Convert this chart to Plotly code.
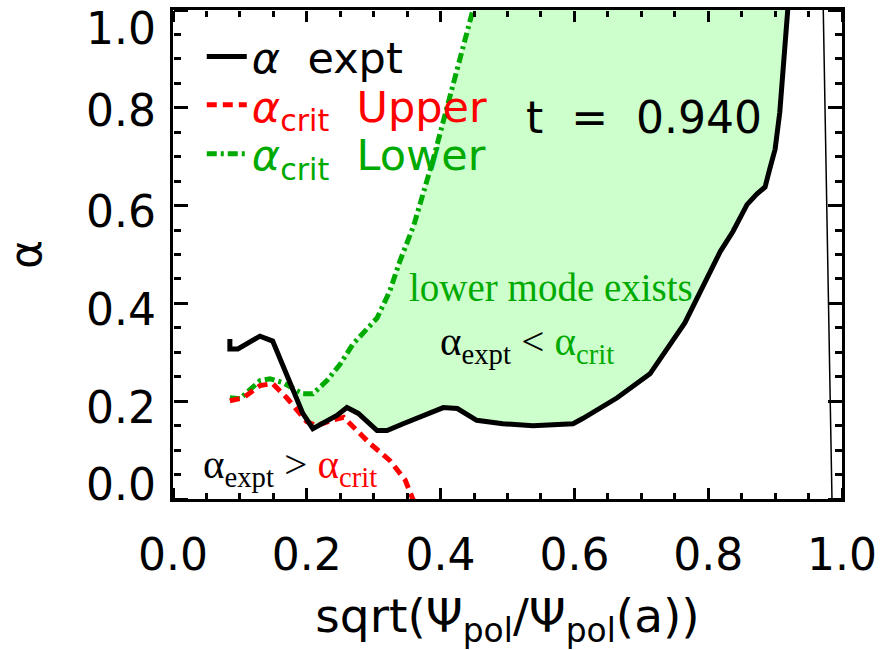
import plotly.graph_objects as go

# ---------------- data ----------------
expt_x = [0.085, 0.085, 0.097, 0.130, 0.149, 0.179, 0.194, 0.209, 0.245, 0.260, 0.277,
          0.305, 0.320, 0.344, 0.404, 0.425, 0.454, 0.493, 0.538, 0.598, 0.613, 0.664,
          0.713, 0.765, 0.818, 0.837, 0.858, 0.873, 0.885, 0.892, 0.900, 0.907, 0.912,
          0.919, 0.922]
expt_y = [0.327, 0.307, 0.307, 0.333, 0.323, 0.228, 0.175, 0.144, 0.171, 0.187, 0.175,
          0.140, 0.140, 0.154, 0.187, 0.185, 0.161, 0.154, 0.150, 0.154, 0.165, 0.207,
          0.256, 0.360, 0.506, 0.547, 0.602, 0.624, 0.638, 0.675, 0.715, 0.791, 0.878,
          0.994, 1.055]

upper_x = [0.085, 0.105, 0.130, 0.149, 0.170, 0.185, 0.200, 0.215, 0.235, 0.255, 0.265,
           0.294, 0.324, 0.347, 0.359, 0.370]
upper_y = [0.201, 0.207, 0.232, 0.236, 0.207, 0.181, 0.158, 0.150, 0.160, 0.167, 0.154,
           0.114, 0.079, 0.039, -0.002, -0.030]

lower_x = [0.085, 0.100, 0.130, 0.145, 0.164, 0.179, 0.194, 0.209, 0.230, 0.250, 0.269,
           0.305, 0.324, 0.339, 0.360, 0.389, 0.424, 0.448, 0.460]
lower_y = [0.207, 0.205, 0.242, 0.246, 0.238, 0.225, 0.215, 0.215, 0.242, 0.276, 0.317,
           0.370, 0.425, 0.486, 0.560, 0.695, 0.878, 0.998, 1.060]

edge_x = [0.972, 0.985]
edge_y = [1.0, 0.0]

x_tickvals = [0.0, 0.2, 0.4, 0.6, 0.8, 1.0]
x_ticktext = ["0.0", "0.2", "0.4", "0.6", "0.8", "1.0"]
y_tickvals = [0.0, 0.2, 0.4, 0.6, 0.8, 1.0]
y_ticktext = ["0.0", "0.2", "0.4", "0.6", "0.8", "1.0"]

fill_start = 0.179  # where alpha_crit lower crosses alpha_expt

# ---------------- styles ----------------
RED = "#ff0000"
GREEN = "#00aa00"
FILL = "#ccffcc"
SANS = "DejaVu Sans"
SERIF = "Liberation Serif"

poly_x = [x for x in lower_x if x >= fill_start] + [x for x in expt_x if x >= fill_start][::-1]
poly_y = [y for x, y in zip(lower_x, lower_y) if x >= fill_start] + \
         [y for x, y in zip(expt_x, expt_y) if x >= fill_start][::-1]

fig = go.Figure()
fig.add_trace(go.Scatter(x=poly_x, y=poly_y, fill="toself", fillcolor=FILL,
                         line=dict(width=0), mode="lines", showlegend=False, hoverinfo="skip"))
fig.add_trace(go.Scatter(x=lower_x, y=lower_y, mode="lines",
                         line=dict(color=GREEN, width=5, dash="10px,4px,3px,4px"),
                         name="<i>α</i><sub>crit</sub>\u00a0\u00a0Lower", legend="legend3"))
fig.add_trace(go.Scatter(x=upper_x, y=upper_y, mode="lines", xaxis="x2", yaxis="y2",
                         line=dict(color=RED, width=5, dash="10px,6px"),
                         name="<i>α</i><sub>crit</sub>\u00a0\u00a0Upper", legend="legend2"))
fig.add_trace(go.Scatter(x=expt_x, y=expt_y, mode="lines", xaxis="x3", yaxis="y3",
                         line=dict(color="black", width=5),
                         name="<i>α</i>\u00a0\u00a0expt", legend="legend"))
fig.add_trace(go.Scatter(x=edge_x, y=edge_y, mode="lines", xaxis="x3", yaxis="y3",
                         line=dict(color="black", width=1.5), showlegend=False))

# tick-only axes: "outside" ticks of an axis placed on the opposite edge point into the plot
x_tick_axis = dict(overlaying="x", anchor="free", range=[0, 1], showline=False,
                   showgrid=False, zeroline=False, showticklabels=False,
                   ticks="outside", ticklen=11, tickwidth=3, tickcolor="black",
                   tickmode="array", tickvals=x_tickvals,
                   minor=dict(ticks="outside", ticklen=6, tickwidth=3, tickcolor="black",
                              dtick=0.05, tick0=0, showgrid=False))
y_tick_axis = dict(overlaying="y", anchor="free", range=[0, 1], showline=False,
                   showgrid=False, zeroline=False, showticklabels=False,
                   ticks="outside", ticklen=14, tickwidth=3, tickcolor="black",
                   tickmode="array", tickvals=y_tickvals,
                   minor=dict(ticks="outside", ticklen=7, tickwidth=3, tickcolor="black",
                              dtick=0.05, tick0=0, showgrid=False))

fig.update_layout(
    template="simple_white",
    width=895, height=650,
    margin=dict(l=173, r=53, t=7, b=151),
    plot_bgcolor="white", paper_bgcolor="white",
    font=dict(family=SANS, size=44, color="black"),
    xaxis=dict(range=[0, 1], showline=True, linewidth=2.5, linecolor="black",
               mirror=True, showgrid=False, zeroline=False, ticks="",
               tickmode="array", tickvals=x_tickvals, ticktext=x_ticktext,
               ticklabelstandoff=15,
               title=dict(text="sqrt(Ψ<sub>pol</sub>/Ψ<sub>pol</sub>(a))",
                          font=dict(size=47), standoff=22)),
    yaxis=dict(range=[0, 1], showline=True, linewidth=2.5, linecolor="black",
               mirror=True, showgrid=False, zeroline=False, ticks="",
               showticklabels=False,
               title=dict(text="α", font=dict(size=44), standoff=125)),
    xaxis2=dict(**x_tick_axis, side="top", position=0),
    xaxis3=dict(**x_tick_axis, side="bottom", position=1),
    yaxis2=dict(**y_tick_axis, side="right", position=0),
    yaxis3=dict(**y_tick_axis, side="left", position=1),
    legend=dict(x=0.043, y=0.905, xanchor="left", yanchor="middle", bgcolor="rgba(0,0,0,0)",
                font=dict(size=43, color="black"), itemwidth=40),
    legend2=dict(x=0.043, y=0.806, xanchor="left", yanchor="middle", bgcolor="rgba(0,0,0,0)",
                 font=dict(size=43, color=RED), itemwidth=40),
    legend3=dict(x=0.043, y=0.706, xanchor="left", yanchor="middle", bgcolor="rgba(0,0,0,0)",
                 font=dict(size=43, color=GREEN), itemwidth=40),
    showlegend=True,
)

# y tick labels (IDL style: end labels pulled inside the axis span)
label_pos = [0.030, 0.187, 0.388, 0.587, 0.795, 0.963]
for pos, txt in zip(label_pos, y_ticktext):
    fig.add_annotation(x=0, y=pos, xref="paper", yref="y", xanchor="right", yanchor="middle",
                       xshift=-15, showarrow=False, text=txt,
                       font=dict(family=SANS, size=44, color="black"))

fig.add_annotation(x=0.704, y=0.78, xref="x", yref="y", showarrow=False,
                   text="t\u00a0\u00a0=\u00a0\u00a00.940", font=dict(family=SANS, size=44, color="black"))
fig.add_annotation(x=0.565, y=0.432, xref="x", yref="y", showarrow=False,
                   text="lower mode exists", font=dict(family=SERIF, size=39, color=GREEN))
fig.add_annotation(x=0.529, y=0.317, xref="x", yref="y", showarrow=False,
                   text="α<sub>expt</sub> &lt; <span style='color:" + GREEN + "'>α<sub>crit</sub></span>",
                   font=dict(family=SERIF, size=41, color="black"))
fig.add_annotation(x=0.175, y=0.065, xref="x", yref="y", showarrow=False,
                   text="α<sub>expt</sub> &gt; <span style='color:" + RED + "'>α<sub>crit</sub></span>",
                   font=dict(family=SERIF, size=41, color="black"))

fig.write_html("out.html")
